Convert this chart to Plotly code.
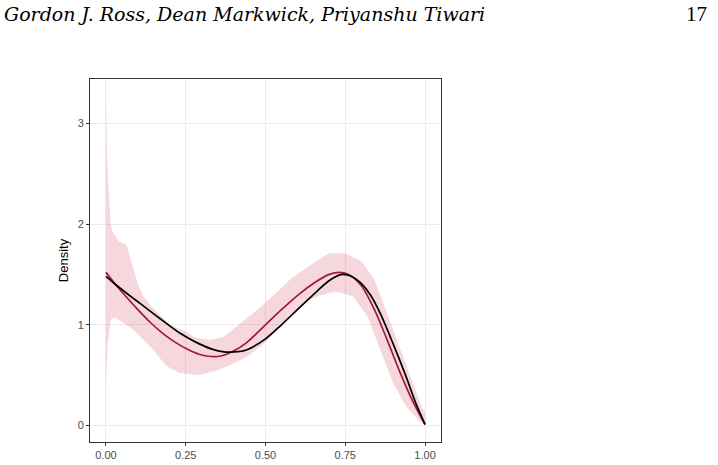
import plotly.graph_objects as go

# Posterior mean density (red)
mean_x = [0.0, 0.03, 0.06, 0.10, 0.14, 0.18, 0.22, 0.26, 0.30, 0.33, 0.36, 0.40, 0.44, 0.50, 0.55,
          0.60, 0.65, 0.70, 0.73, 0.76, 0.80, 0.84, 0.88, 0.92, 0.96, 1.00]
mean_y = [1.52, 1.40, 1.29, 1.15, 1.02, 0.91, 0.82, 0.75, 0.70, 0.685, 0.69, 0.74, 0.82, 1.00, 1.15,
          1.29, 1.41, 1.50, 1.52, 1.50, 1.39, 1.16, 0.86, 0.54, 0.25, 0.01]

# True density (black)
true_x = [0.0, 0.03, 0.07, 0.12, 0.17, 0.23, 0.28, 0.33, 0.37, 0.40, 0.44, 0.50, 0.55, 0.60,
          0.65, 0.70, 0.74, 0.77, 0.80, 0.83, 0.86, 0.90, 0.94, 0.97, 1.00]
true_y = [1.48, 1.40, 1.30, 1.18, 1.06, 0.92, 0.83, 0.76, 0.73, 0.73, 0.75, 0.86, 1.00, 1.15,
          1.30, 1.44, 1.50, 1.48, 1.41, 1.29, 1.11, 0.81, 0.49, 0.23, 0.01]

# Credible band
upper_x = [0.0, 0.004, 0.01, 0.015, 0.02, 0.04, 0.055, 0.065, 0.08, 0.10, 0.117, 0.15, 0.20,
           0.25, 0.28, 0.33, 0.37, 0.44, 0.49, 0.545, 0.58, 0.65, 0.70, 0.75, 0.80, 0.84,
           0.88, 0.92, 0.96, 0.99, 1.00]
upper_y = [3.27, 2.60, 2.25, 2.00, 1.93, 1.83, 1.81, 1.79, 1.62, 1.41, 1.28, 1.16, 1.00,
           0.93, 0.87, 0.85, 0.88, 1.06, 1.19, 1.35, 1.46, 1.61, 1.71, 1.71, 1.63, 1.46,
           1.12, 0.78, 0.42, 0.18, 0.14]
lower_x = [0.0, 0.005, 0.015, 0.025, 0.04, 0.086, 0.14, 0.19, 0.23, 0.29, 0.34, 0.39, 0.44,
           0.49, 0.545, 0.58, 0.62, 0.67, 0.72, 0.775, 0.82, 0.86, 0.90, 0.94, 0.98, 1.00]
lower_y = [0.40, 0.80, 1.05, 1.07, 1.05, 0.95, 0.78, 0.59, 0.52, 0.50, 0.54, 0.60, 0.68,
           0.80, 0.97, 1.08, 1.22, 1.29, 1.33, 1.28, 1.08, 0.75, 0.42, 0.19, 0.05, 0.0]

x_ticks = [0.0, 0.25, 0.5, 0.75, 1.0]
x_labels = ["0.00", "0.25", "0.50", "0.75", "1.00"]
y_ticks = [0, 1, 2, 3]

band_x = upper_x + lower_x[::-1]
band_y = upper_y + lower_y[::-1]

fig = go.Figure()
fig.add_trace(go.Scatter(x=band_x, y=band_y, mode="lines", fill="toself",
                         fillcolor="rgba(200,40,75,0.19)", line=dict(width=0),
                         hoverinfo="skip", showlegend=False))
fig.add_trace(go.Scatter(x=mean_x, y=mean_y, mode="lines",
                         line=dict(color="#A11A35", width=1.7, shape="spline", smoothing=0.8),
                         showlegend=False))
fig.add_trace(go.Scatter(x=true_x, y=true_y, mode="lines",
                         line=dict(color="#000000", width=1.7, shape="spline", smoothing=0.8),
                         showlegend=False))

axis_common = dict(showgrid=True, gridcolor="#EBEBEB", gridwidth=1, zeroline=False,
                   showline=True, mirror=True, linecolor="#333333", linewidth=1,
                   ticks="outside", ticklen=3, tickcolor="#333333", tickwidth=1, automargin=False,
                   tickfont=dict(family="Liberation Sans, Arial", size=11, color="#4D4D4D"))

fig.update_layout(
    width=718, height=465,
    margin=dict(l=90, r=277, t=79, b=23, autoexpand=False),
    paper_bgcolor="white", plot_bgcolor="white",
    xaxis=dict(range=[-0.05, 1.05], tickvals=x_ticks, ticktext=x_labels, **axis_common),
    yaxis=dict(range=[-0.164, 3.44], tickvals=y_ticks, ticktext=[str(t) for t in y_ticks],
               title=dict(text="Density", font=dict(family="Liberation Sans, Arial", size=13, color="black"),
                          standoff=6),
               **axis_common),
    annotations=[
        dict(text="Gordon J. Ross, Dean Markwick, Priyanshu Tiwari", xref="paper", yref="paper",
             x=-88/351, y=1 + (79-14)/363, xanchor="left", yanchor="middle", showarrow=False,
             font=dict(family="DejaVu Serif", size=19, color="black", style="italic")),
        dict(text="17", xref="paper", yref="paper",
             x=(709-90)/351, y=1 + (79-14)/363, xanchor="right", yanchor="middle", showarrow=False,
             font=dict(family="Liberation Serif, DejaVu Serif", size=21, color="black")),
    ],
)

fig.write_html("out.html")
